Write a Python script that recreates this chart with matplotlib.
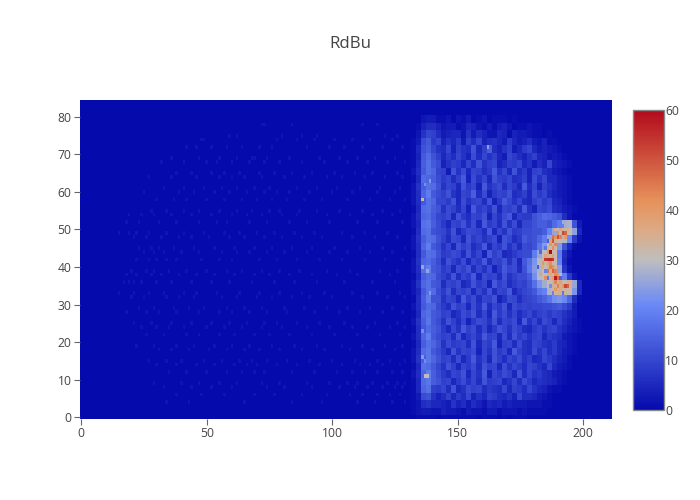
import matplotlib
matplotlib.use("Agg")
import matplotlib.pyplot as plt
from matplotlib.colors import LinearSegmentedColormap
import numpy as np

plt.rcParams['font.family'] = ['Open Sans', 'DejaVu Sans']

#Size of the whole heatmap in cells
n_cols = 212
n_rows = 85

#Faint cells on the left part of the map: row, then the columns lit in that row
left_specks = [
    (78, [72, 73, 84, 112, 118]),
    (75, [59, 62, 80, 88, 94, 121, 126]),
    (74, [48, 49, 78, 86, 93, 101, 108, 115, 124]),
    (72, [42, 46, 52, 58, 64, 71, 76, 90, 99, 105, 112, 120, 128]),
    (69, [36, 47, 55, 62, 68, 69, 74, 83, 95, 103, 110, 117, 125]),
    (68, [32, 41, 50, 54, 60, 67, 73, 79, 88, 97, 106, 114, 122, 129]),
    (65, [38, 44, 52, 57, 63, 71, 77, 84, 92, 101, 109, 116, 126]),
    (64, [27, 36, 46, 55, 60, 65, 72, 81, 89, 98, 104, 113, 121, 128]),
    (61, [33, 41, 49, 56, 62, 69, 75, 86, 94, 102, 111, 119, 127]),
    (60, [25, 39, 45, 53, 59, 66, 73, 78, 83, 91, 100, 108, 118, 125]),
    (58, [30, 37, 42, 50, 57, 64, 70, 76, 82, 89, 96, 106, 115, 123, 129]),
    (55, [28, 34, 41, 47, 55, 62, 68, 75, 79, 87, 94, 103, 112, 120, 127]),
    (54, [19, 24, 29, 36, 44, 52, 60, 66, 72, 80, 86, 98, 107, 116, 124]),
    (52, [18, 23, 31, 38, 47, 54, 58, 67, 74, 83, 90, 99, 110, 118, 128]),
    (49, [15, 19, 22, 27, 34, 41, 49, 57, 63, 70, 77, 85, 93, 104, 113, 122]),
    (48, [21, 26, 32, 39, 44, 51, 59, 65, 73, 80, 88, 96, 108, 117, 126]),
    (45, [23, 28, 31, 37, 45, 53, 61, 69, 76, 84, 92, 101, 111, 120, 129]),
    (44, [25, 29, 33, 40, 47, 56, 62, 67, 74, 81, 90, 99, 106, 115, 124]),
    (42, [22, 27, 30, 34, 38, 48, 55, 60, 71, 78, 86, 95, 104, 113, 121, 128]),
    (39, [20, 26, 29, 35, 42, 50, 58, 64, 72, 79, 87, 98, 107, 119, 126]),
    (38, [18, 22, 28, 32, 39, 46, 53, 61, 69, 75, 83, 92, 102, 110, 123]),
    (36, [17, 19, 21, 24, 30, 36, 44, 52, 59, 68, 77, 85, 94, 105, 116, 125]),
    (33, [15, 21, 27, 33, 41, 46, 54, 63, 71, 79, 88, 97, 108, 118, 127]),
    (32, [20, 25, 34, 39, 45, 56, 62, 70, 76, 84, 91, 100, 112, 122, 129]),
    (29, [23, 29, 37, 43, 49, 58, 65, 72, 81, 89, 98, 106, 115, 124]),
    (28, [18, 26, 31, 38, 47, 55, 60, 67, 74, 82, 93, 103, 111, 120, 128]),
    (25, [21, 28, 36, 44, 52, 59, 66, 73, 78, 86, 95, 105, 117, 126]),
    (24, [24, 30, 35, 41, 50, 57, 64, 72, 80, 90, 99, 108, 114, 123, 129]),
    (22, [26, 33, 42, 47, 55, 61, 69, 75, 83, 92, 101, 110, 119, 127]),
    (19, [22, 29, 38, 45, 53, 60, 67, 76, 85, 94, 104, 112, 121, 128]),
    (18, [31, 36, 43, 51, 58, 65, 71, 79, 88, 97, 107, 116, 125]),
    (15, [27, 34, 40, 49, 56, 63, 68, 74, 82, 91, 100, 109, 118, 123, 129]),
    (14, [30, 38, 46, 53, 61, 66, 70, 78, 86, 95, 104, 111, 115, 120, 127]),
    (12, [35, 42, 50, 58, 64, 69, 73, 84, 93, 102, 108, 113, 118, 124, 128]),
    (9, [29, 40, 47, 55, 62, 72, 79, 90, 99, 106, 110, 116, 122, 126, 129]),
    (8, [33, 44, 52, 60, 74, 81, 92, 103, 109, 114, 120, 125, 128]),
    (6, [38, 48, 57, 69, 77, 88, 98, 107, 112, 118, 123, 127]),
    (4, [34, 43, 65, 84, 96, 110, 117, 124, 129]),
]

#Right part of the map, x 130-202, each character is one 2x2 block in base 36, top row first
right_rows = [
    "000000000000000000000000000000000000",
    "000000000000000000000000000000000000",
    "000233112021301201110100000000000000",
    "001466423312542131342011211000000000",
    "0027a96345527364225414332110100000000",
    "013bd8a4758396a4675385346324110000000",
    "015cea76a4976c59e6479358a5343210000000",
    "014dgc9586a74b6a7953a8647954232100000",
    "015ehdb47985a6c79a4698a57364a4321000",
    "026dhfa93c7b5a968d7a5c6849a653210000",
    "015gfeb8a69d4b7a5c98a6794b7a55321000",
    "027ehgc7a95c8a4d79b6a85d6a4975321000",
    "026fjdb9c75a9e6b48a9c6795b8a64321000",
    "026dhfaa8c5b79a6c48da7a659b8a5421000",
    "015ghec7b96a4d8a7c5a9b6d74a9b6532100",
    "026fgda9b5c86a9c4a7bd5988cegfec62000",
    "025hieb85a9c7b5d8a6c7b5aaceecgjrsc30",
    "016ghcba7c58ba96d5a7c89bbccekqvxvp50",
    "027ehgc96ba5c8a79b4ca68dbcfjqxwtl820",
    "026fjdb7a5c9b68d5a8c7a6baciovxoc5100",
    "016dhgc89ba6c7a4d9b568abbjquywj62000",
    "027fgeb6c97b5a8d6a9c7b5dhntxzwk51000",
    "026hjdc8a5b9c6a7b48dab6ciosvzyp72000",
    "015egfb97c6a8d5b9a6c79bbemtvywtj8200",
    "027fhdc6a9b57c8a4d9b68a9chnrvyzwzq50",
    "025dhgb8c6a9b5a7c6a9d58abdiksxzxwn50",
    "016ejcc7a95d8b6a9c47ba69abdfimnlf610",
    "026dgfb86c9a5b7d6a8c5b9a9aabbcdb8300",
    "015fhdc9a57b9c6a5d8b7a68a79a8a975300",
    "027eidb7c96a48ba7c6a9b5d7a6b959642100",
    "016dgec85a7d9b6a58ca7b9658a79a75321000",
    "026fjdb9a6c58a7d9a5b6c8a79a587632100",
    "015ehfc7b89a6c5a8d49a6b76a9768542100",
    "026gidb85c7a9b4a7c8a5d976b7a6853210",
    "027eifc9a6b58d7a5c96a8b7956a86431000",
    "015hgda7c95a8b6c9a5b7a86a975a5321000",
    "026fjeb86a9c5a7d4a8b95c6a7865321000",
    "015giec9a58b7a6c89a57a6b857654210000",
    "015fh98a6c57b9a6876a5986a75421100000",
    "013bc7469586a475986574a6653210000000",
    "012675543746364254534333222110000000",
    "012332243321322133122212111100000000",
    "001111011111110111010111000000000000",
]

#Cells read one by one: column, row, value
hot_cells = [
    (192, 49, 52), (193, 49, 48), (190, 49, 42), (194, 50, 36), (191, 50, 38), (189, 50, 34),
    (190, 48, 50), (191, 48, 44), (188, 48, 46), (189, 48, 42), (193, 48, 40), (187, 47, 38),
    (188, 47, 50), (189, 46, 44), (187, 46, 40), (188, 45, 42), (186, 45, 36), (187, 44, 60),
    (186, 44, 40), (185, 43, 38), (188, 43, 38), (185, 42, 54), (186, 42, 56), (187, 42, 56),
    (188, 42, 54), (184, 41, 40), (186, 41, 38), (187, 41, 42), (184, 40, 36), (187, 40, 44),
    (188, 40, 42), (186, 39, 46), (188, 39, 48), (189, 39, 44), (183, 38, 38), (187, 38, 36),
    (189, 38, 42), (190, 38, 40), (189, 37, 58), (190, 37, 46), (188, 37, 38), (185, 37, 42),
    (189, 36, 44), (191, 36, 38), (193, 35, 52), (194, 35, 48), (192, 35, 40), (190, 35, 44),
    (189, 34, 40), (191, 34, 36),
    (183, 44, 16), (185, 45, 18), (182, 40, 14), (185, 39, 20), (186, 37, 18), (191, 37, 14),
    (187, 35, 22), (188, 33, 20), (192, 33, 18), (186, 47, 14), (188, 51, 16), (192, 51, 20),
    (136, 58, 32), (162, 72, 25), (139, 63, 24), (137, 62, 22), (138, 39, 26), (136, 40, 26),
    (137, 11, 30), (138, 11, 30), (136, 16, 24), (137, 15, 22), (139, 33, 24), (136, 23, 22),
]

x_ticks = [0, 50, 100, 150, 200]
y_ticks = [0, 10, 20, 30, 40, 50, 60, 70, 80]
bar_ticks = [0, 10, 20, 30, 40, 50, 60]

#Plotly RdBu scale
rdbu_stops = [
    (0.0, (5, 10, 172)),
    (0.35, (106, 137, 247)),
    (0.5, (190, 190, 190)),
    (0.6, (220, 170, 132)),
    (0.7, (230, 145, 90)),
    (1.0, (178, 10, 28)),
]
rdbu = LinearSegmentedColormap.from_list(
    "rdbu_plotly", [(p, tuple(c / 255 for c in rgb)) for p, rgb in rdbu_stops]
)

#Fill the full grid from the lists above
grid = np.zeros((n_rows, n_cols))
for y, xs in left_specks:
    grid[y, xs] = 2
for i, row in enumerate(right_rows):
    top = n_rows - 2 * i
    for j, c in enumerate(row[:36]):
        grid[max(top - 2, 0):top, 130 + 2 * j:132 + 2 * j] = int(c, 36)
for x, y, v in hot_cells:
    grid[y, x] = v

fig = plt.figure(figsize=(7, 5), dpi=100)
ax = fig.add_axes([80 / 700, 81 / 500, 532 / 700, 319 / 500])
im = ax.imshow(grid, origin="lower", cmap=rdbu, vmin=0, vmax=60, aspect="auto",
               interpolation="nearest", extent=(-0.5, 211.5, -0.5, 84.5))

for side in ax.spines.values():
    side.set_visible(False)
ax.set_xticks(x_ticks)
ax.set_yticks(y_ticks)
ax.tick_params(length=4, width=0.8, color="#666666", labelcolor="#444444", labelsize=8.7, pad=2)

cax = fig.add_axes([633 / 700, 90 / 500, 31 / 700, 300 / 500])
bar = fig.colorbar(im, cax=cax, ticks=bar_ticks)
bar.outline.set_edgecolor("#888888")
bar.outline.set_linewidth(1)
bar.ax.tick_params(length=0, labelcolor="#444444", labelsize=8.7, pad=1)

fig.text(350 / 700, 1 - 44 / 500, "RdBu", ha="center", va="center", fontsize=12.2, color="#444444")

fig.savefig("out.png", dpi=100)
